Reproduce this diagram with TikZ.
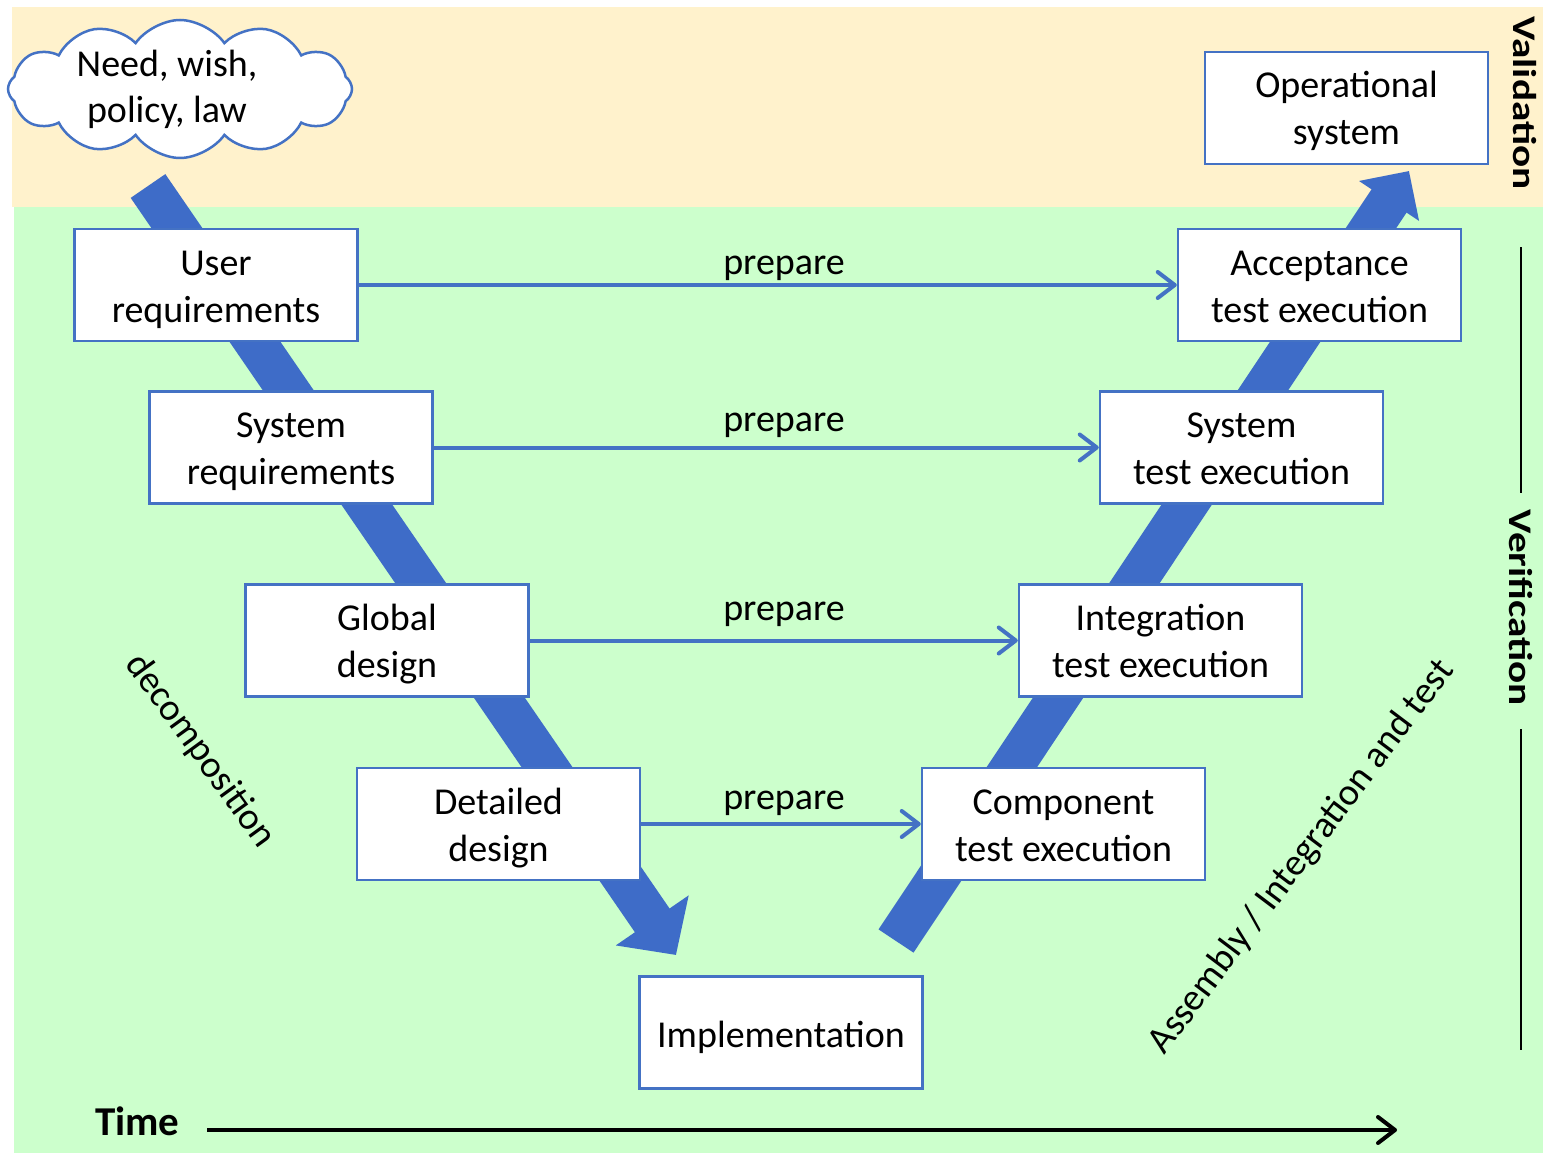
\documentclass[tikz,border=0pt]{standalone}
\usepackage{fontspec}
\setmainfont{Carlito}
\usetikzlibrary{arrows.meta,shapes.symbols}

\definecolor{frameblue}{RGB}{68,114,196}
\definecolor{flowblue}{RGB}{62,108,200}
\definecolor{valband}{RGB}{255,242,204}
\definecolor{verband}{RGB}{204,255,204}

\begin{document}
\begin{tikzpicture}[x=1pt,y=-1pt,
  stagebox/.style={draw=frameblue, line width=2.5pt, fill=white,
    minimum width=283pt, minimum height=112pt, inner sep=0pt,
    align=center, font=\fontsize{38}{47}\selectfont,
    execute at end node={\rule[-8pt]{0pt}{8pt}}},
  stage/.style={stagebox, execute at begin node={\rule{0pt}{82pt}}},
  stageone/.style={stagebox, execute at begin node={\rule{0pt}{37pt}}},
  prep/.style={draw=frameblue, line width=4pt,
    -{Straight Barb[length=17pt,width=26pt,round]}},
  preplabel/.style={anchor=base, inner sep=0pt, font=\fontsize{38}{47}\selectfont},
  flow/.style={draw=flowblue, line width=42pt},
  sideline/.style={line width=2.5pt},
  sidelabel/.style={rotate=-90, xscale=1.25, inner sep=0pt,
    font=\fontsize{33}{40}\selectfont\bfseries},
  slanted/.style={inner sep=0pt, font=\fontsize{38}{47}\selectfont}
]
\useasboundingbox (0,0) rectangle (1543,1153);

% coloured bands: validation (top) and verification (rest)
\fill[valband] (12,7) rectangle (1543,207);
\fill[verband] (14,207) rectangle (1543,1153);

% broad flow arrows of the V
\coordinate (dtail) at (148,186);
\coordinate (dtip) at (676,955);
\coordinate (atail) at (896,941);
\coordinate (atip) at (1409,171);
\draw[flow, -{Triangle[length=42pt,width=86pt]}] (dtail) -- (dtip);
\draw[flow, -{Triangle[length=36pt,width=70pt]}] (atail) -- (atip);

% origin cloud
\node[cloud, cloud puffs=12, cloud puff arc=110, aspect=2.55,
  draw=frameblue, line width=2.5pt, fill=white,
  minimum width=344pt, minimum height=138pt] (need) at (180,89) {};
\node[align=center, font=\fontsize{38}{46}\selectfont] (needtext) at (167,89)
  {Need, wish,\\policy, law};

% left leg
\node[stage] (ureq) at (216,285) {User\\requirements};
\node[stage] (sreq) at (291,447.5) {System\\requirements};
\node[stage] (gdes) at (387,640.5) {Global\\design};
\node[stage] (ddes) at (498.5,824) {Detailed\\design};

% bottom
\node[stageone] (impl) at (781,1032.5) {Implementation};

% right leg
\node[stage] (ctest) at (1063.5,824) {Component\\test execution};
\node[stage] (itest) at (1160.5,640.5) {Integration\\test execution};
\node[stage] (stest) at (1241.5,447.5) {System\\test execution};
\node[stage] (atest) at (1319.5,285) {Acceptance\\test execution};
\node[stage] (opsys) at (1346.5,108) {Operational\\system};

% preparation links
\draw[prep] (ureq) -- (atest);
\draw[prep] (sreq) -- (stest);
\draw[prep] (gdes) -- (itest);
\draw[prep] (ddes) -- (ctest);
\node[preplabel] (p1) at (784,274) {prepare};
\node[preplabel] (p2) at (784,431) {prepare};
\node[preplabel] (p3) at (784,620) {prepare};
\node[preplabel] (p4) at (784,809) {prepare};

% slanted leg captions
\node[slanted, rotate=-54] (decomp) at (200,751) {decomposition};
\node[slanted, rotate=53] (assem) at (1302,857) {Assembly / Integration and test};

% side captions
\node[sidelabel] (valid) at (1525,103) {Validation};
\node[sidelabel] (verif) at (1521,608) {Verification};
\coordinate (vtop) at (1521,247);
\coordinate (vbot) at (1521,1050);
\draw[sideline] (vtop) -- ([yshift=17pt]verif.west);
\draw[sideline] ([yshift=-23pt]verif.east) -- (vbot);

% time axis
\node[anchor=base west, inner sep=0pt, font=\fontsize{41}{48}\selectfont\bfseries]
  (time) at (95,1135) {Time};
\coordinate (tstart) at (207,1130);
\coordinate (tend) at (1397,1130);
\draw[line width=4pt, -{Straight Barb[length=17pt,width=26pt,round]}] (tstart) -- (tend);
\end{tikzpicture}
\end{document}
